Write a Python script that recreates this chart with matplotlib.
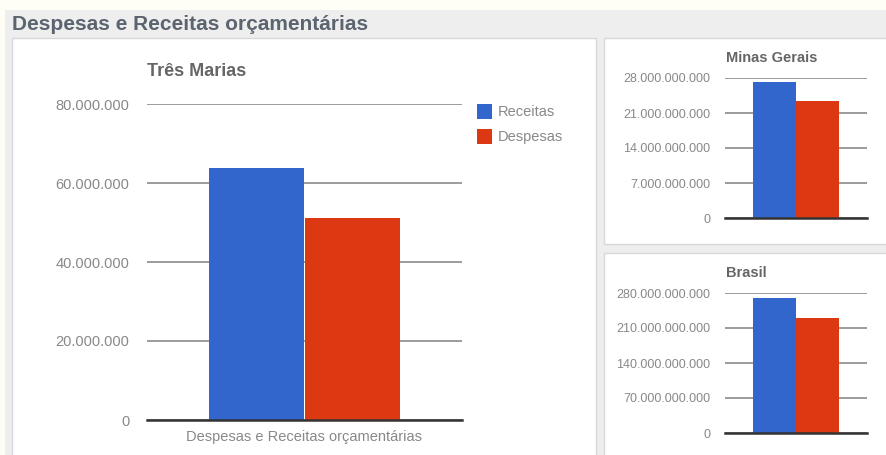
import matplotlib.pyplot as plt
from matplotlib.patches import Rectangle
from matplotlib.ticker import FuncFormatter

plt.rcParams['font.family'] = ['Liberation Sans', 'DejaVu Sans']

W, H = 887, 455

series = ['Receitas', 'Despesas']
cores = ['#3366cc', '#dc3912']

tres_marias = [63800000, 51100000]
minas_gerais = [27200000000, 23500000000]
brasil = [270000000000, 230000000000]

ticks_tm = [0, 20000000, 40000000, 60000000, 80000000]
ticks_mg = [0, 7000000000, 14000000000, 21000000000, 28000000000]
ticks_br = [0, 70000000000, 140000000000, 210000000000, 280000000000]


def px(x0, y0, x1, y1):
    return [x0 / W, 1 - y1 / H, (x1 - x0) / W, (y1 - y0) / H]


def fmt(v, pos=None):
    return f"{int(v):,}".replace(",", ".")


def grafico(ax, valores, ticks, titulo, tsize, lsize, tx, ty):
    larg = 0.302
    ax.set_zorder(5)
    ax.bar([-0.152, 0.152], valores, width=larg, color=cores, zorder=3)
    ax.set_xlim(-0.5, 0.5)
    ax.set_ylim(ticks[0], ticks[-1])
    ax.set_yticks(ticks)
    ax.yaxis.set_major_formatter(FuncFormatter(fmt))
    ax.set_xticks([])
    for s in ax.spines.values():
        s.set_visible(False)
    ax.grid(axis='y', color='#8a8a8a', linewidth=1.2, zorder=1)
    ax.axhline(0, color='#333333', linewidth=1.8, zorder=4, clip_on=False)
    ax.tick_params(axis='y', length=0, pad=lsize * 1.2, labelsize=lsize, labelcolor='#888888')
    ax.set_facecolor('none')
    fig.text(tx / W, 1 - ty / H, titulo, fontsize=tsize, fontweight='bold',
             color='#666666', va='center', ha='left')


fig = plt.figure(figsize=(W / 100, H / 100), dpi=100)
fig.patch.set_facecolor('#fefef6')

# fundo cinza e paineis brancos
fig.patches.append(Rectangle((5 / W, 0), 1, 1 - 10 / H, transform=fig.transFigure,
                             facecolor='#eeeeee', edgecolor='none', zorder=-2))
for (x0, y0, x1, y1) in [(12, 38, 596, 460), (604, 38, 892, 244), (604, 253, 892, 460)]:
    fig.patches.append(Rectangle((x0 / W, 1 - y1 / H), (x1 - x0) / W, (y1 - y0) / H,
                                 transform=fig.transFigure, facecolor='white',
                                 edgecolor='#d8d8d8', linewidth=1, zorder=-1))

fig.text(12 / W, 1 - 24 / H, 'Despesas e Receitas orçamentárias', fontsize=15,
         fontweight='bold', color='#5c6470', va='center', ha='left')

ax1 = fig.add_axes(px(147, 104, 462, 420))
grafico(ax1, tres_marias, ticks_tm, 'Três Marias', 13, 10.5, 147, 71)
ax1.text(0.5, -0.055, 'Despesas e Receitas orçamentárias', transform=ax1.transAxes,
         ha='center', va='center', fontsize=10.5, color='#888888')

# legenda
for i, (nome, cor) in enumerate(zip(series, cores)):
    y0 = 104 + i * 25
    fig.patches.append(Rectangle((477 / W, 1 - (y0 + 15) / H), 15 / W, 15 / H,
                                 transform=fig.transFigure, facecolor=cor,
                                 edgecolor='none', zorder=2))
    fig.text(498 / W, 1 - (y0 + 7.5) / H, nome, fontsize=10.5, color='#888888',
             va='center', ha='left')

ax2 = fig.add_axes(px(725, 78, 867, 218))
grafico(ax2, minas_gerais, ticks_mg, 'Minas Gerais', 10.5, 9, 726, 58)

ax3 = fig.add_axes(px(725, 293, 867, 433))
grafico(ax3, brasil, ticks_br, 'Brasil', 10.5, 9, 726, 273)

fig.savefig('out.png', dpi=100, facecolor=fig.get_facecolor())
